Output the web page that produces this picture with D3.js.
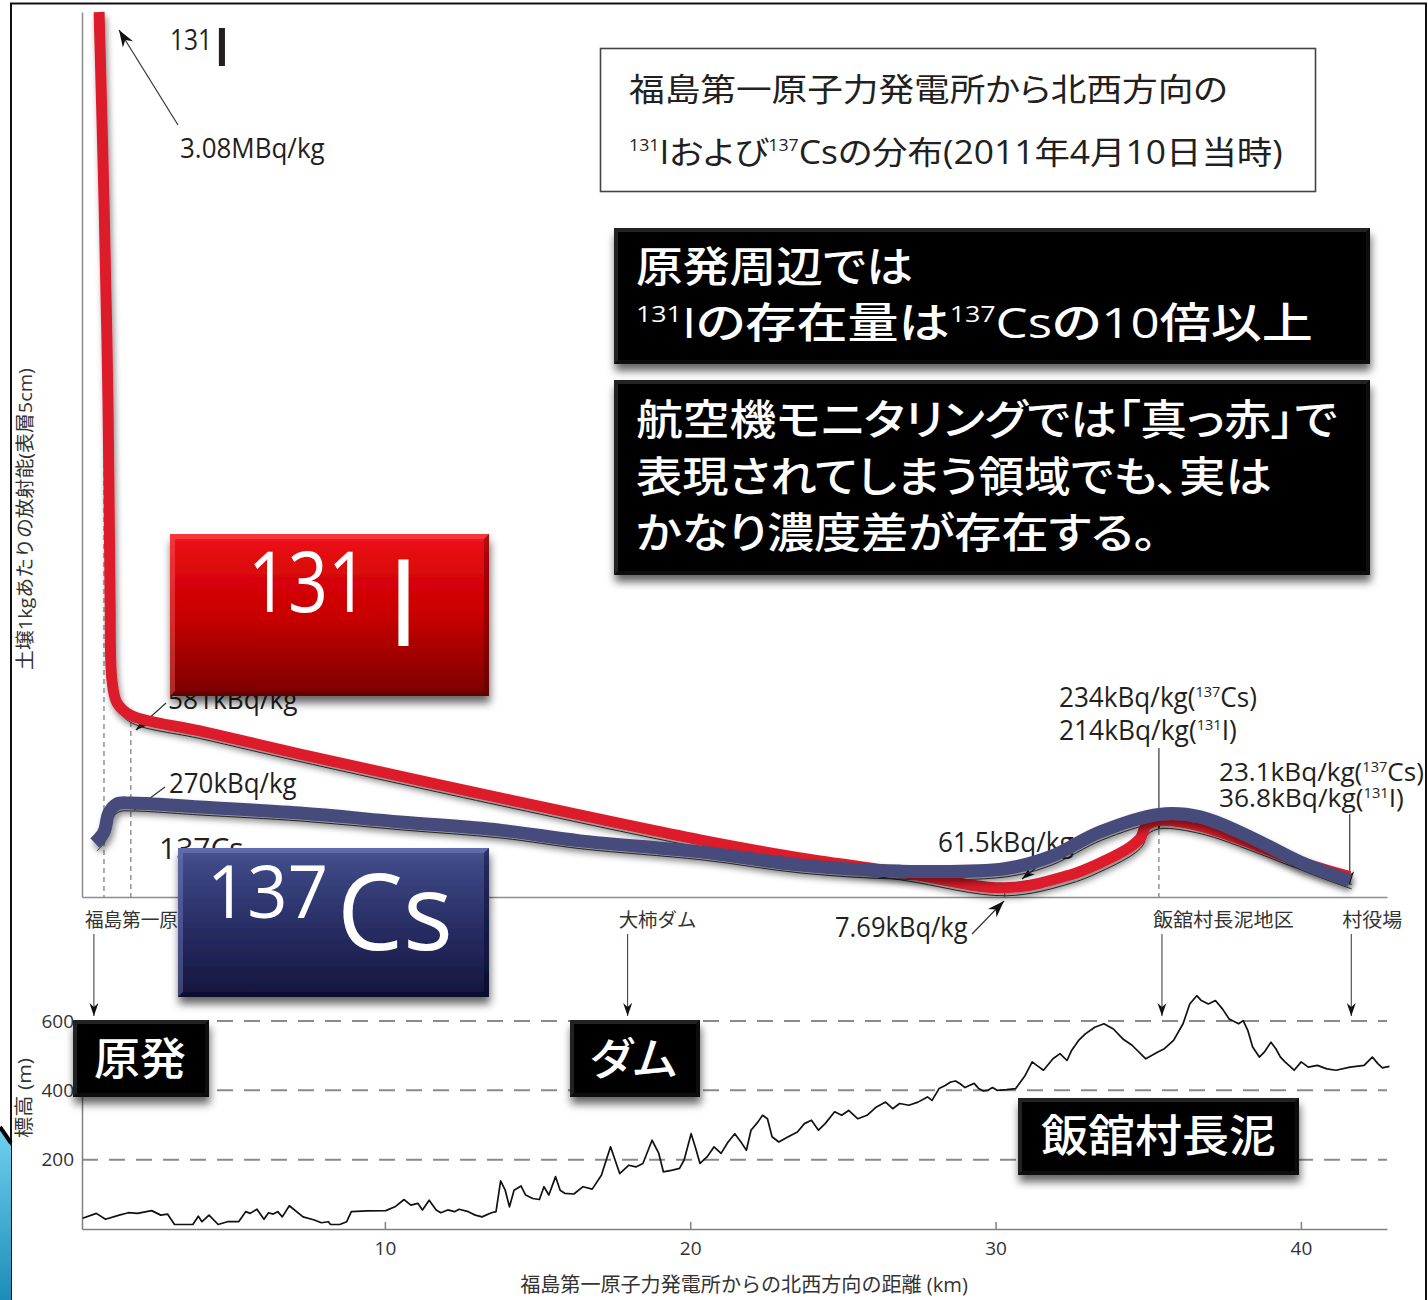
<!DOCTYPE html>
<html>
<head>
<meta charset="utf-8">
<script src="https://cdn.jsdelivr.net/npm/d3@7"></script>
<style>
  html, body { margin: 0; padding: 0; background: #fff; }
  svg { display: block; }
  text { font-family: "Open Sans", "Noto Sans CJK JP", sans-serif; }
</style>
</head>
<body>
<svg id="chart" width="1428" height="1300"></svg>
<script>
// ---------------- data ----------------
// 131I in surface soil (kBq/kg) along the NW transect, km from the plant
const iodineKm  = [0.64, 0.80, 0.93, 1.00, 1.06, 1.23, 1.68, 3.94, 7.22, 13.77, 20.32, 23.60, 26.87, 30.30, 32.44, 33.42, 34.40, 34.75, 34.93, 35.35, 36.70, 38.34, 39.97, 41.60];
const iodineVal = [3080, 2412, 1702, 991, 707, 625, 581, 526, 444, 288, 153, 96, 51, 7.69, 42, 80, 130, 160, 197, 214, 197, 143, 83, 36.8];

// 137Cs in surface soil (kBq/kg)
const cesiumKm  = [0.50, 0.80, 0.96, 1.22, 1.68, 3.94, 7.22, 10.50, 13.77, 16.39, 20.32, 23.60, 26.87, 30.30, 31.78, 33.42, 35.35, 36.70, 38.34, 39.97, 41.60];
const cesiumVal = [143, 178, 238, 267, 270, 257, 238, 210, 184, 150, 115, 73, 54, 61.5, 99, 178, 234, 226, 162, 83, 23.1];

// sampling sites marked on the profile (km)
const siteKm = [0.8, 1.68, 30.3, 35.35, 41.6];

// terrain elevation along the same line (m)
const elevKm = [0.10,0.55,0.85,1.30,1.60,1.90,2.36,2.66,2.88,3.11,3.71,3.89,4.01,4.24,4.54,4.84,5.21,5.44,5.59,5.81,6.04,6.19,6.34,6.49,6.64,6.87,7.32,7.69,7.92,8.15,8.22,8.52,8.75,8.90,9.42,10.03,10.33,10.63,10.85,11.08,11.23,11.45,11.68,11.83,12.06,12.28,12.43,12.73,12.96,13.18,13.49,13.64,13.79,13.94,14.08,14.23,14.46,14.61,14.84,15.06,15.21,15.37,15.59,15.74,15.89,16.19,16.49,16.79,17.09,17.39,17.69,17.99,18.22,18.45,18.75,18.97,19.12,19.42,19.65,19.80,20.03,20.18,20.32,20.55,20.78,21.01,21.24,21.46,21.69,21.84,21.99,22.22,22.37,22.53,22.68,22.90,23.21,23.51,23.74,23.97,24.20,24.42,24.73,24.96,25.19,25.49,25.79,26.10,26.40,26.63,26.86,27.16,27.46,27.77,27.92,28.15,28.35,28.53,28.69,28.84,29.00,29.14,29.30,29.45,29.60,29.75,29.90,30.05,30.36,30.66,30.97,31.20,31.35,31.57,31.88,32.11,32.34,32.49,32.72,32.94,33.25,33.55,33.86,34.16,34.47,34.92,35.30,35.53,35.83,36.14,36.36,36.59,36.74,36.97,37.20,37.43,37.65,37.96,38.11,38.26,38.42,38.64,38.80,39.02,39.18,39.33,39.48,39.78,40.01,40.24,40.54,40.85,41.15,41.61,42.07,42.34,42.52,42.67,42.90];
const elevM  = [31,45,28,40,47,45,53,40,43,13,13,37,21,40,13,21,21,50,45,57,28,47,43,50,35,67,35,26,18,21,13,13,21,50,52,53,64,85,69,74,55,83,55,47,55,50,57,50,40,35,47,50,139,112,64,112,124,98,88,85,122,98,151,112,103,101,122,115,155,237,160,184,179,189,256,218,165,170,175,199,275,232,189,208,237,218,251,275,247,227,285,309,328,318,266,251,266,280,304,314,285,304,338,328,342,318,328,352,366,347,362,357,366,381,371,405,414,424,427,419,408,414,420,405,398,400,408,400,402,405,443,482,472,458,491,506,486,515,544,563,582,592,577,549,530,491,510,520,544,592,649,673,659,649,659,635,606,592,601,573,525,496,510,539,520,496,482,458,482,467,472,462,458,467,472,496,477,465,469];

const elevTicks = [200, 400, 600];
const distTicks = [10, 20, 30, 40];

const places  = ["福島第一原子力発電所", "大柿ダム", "飯舘村長泥地区", "村役場"];
const placeKm = [0.47, 17.95, 35.45, 41.65];

// ---------------- scales ----------------
const svg = d3.select("#chart");
const defs = svg.append("defs");

const xs = d3.scaleLinear().domain([0.08, 42.82]).range([82, 1387]);
// schematic activity axis: piecewise linear so both the near-plant peak and the low values stay readable
const yConc = d3.scaleLinear().domain([0, 10, 270, 3080]).range([897, 885, 803, 12]);
const yElev = d3.scaleLinear().domain([0, 600]).range([1229, 1021]);

// ---------------- helpers ----------------
function dropShadow(id, dx, dy, sd, op) {
  const f = defs.append("filter").attr("id", id)
    .attr("filterUnits", "userSpaceOnUse").attr("x", 0).attr("y", 0).attr("width", 1428).attr("height", 1300);
  f.append("feDropShadow").attr("dx", dx).attr("dy", dy).attr("stdDeviation", sd)
    .attr("flood-color", "#000").attr("flood-opacity", op);
}
dropShadow("lineShadow", 2, 5, 3, 0.45);
dropShadow("boxShadow", 1, 7, 4.5, 0.6);

function arrowMarker(id, len, wid) {
  defs.append("marker").attr("id", id)
    .attr("viewBox", `0 0 ${len} ${wid}`).attr("refX", len).attr("refY", wid / 2)
    .attr("markerWidth", len).attr("markerHeight", wid)
    .attr("markerUnits", "userSpaceOnUse").attr("orient", "auto")
    .append("path").attr("d", `M0,0L${len},${wid / 2}L0,${wid}L${len * 0.3},${wid / 2}Z`).attr("fill", "#111");
}
arrowMarker("arrowBig", 17, 12);
arrowMarker("arrowSmall", 13, 9);

function gradient(id, stops) {
  const g = defs.append("linearGradient").attr("id", id).attr("x1", 0).attr("y1", 0).attr("x2", 0).attr("y2", 1);
  stops.forEach(s => g.append("stop").attr("offset", s[0]).attr("stop-color", s[1]));
}
gradient("redFill", [[0, "#f2161e"], [0.12, "#e30a10"], [0.5, "#c90000"], [1, "#7a0000"]]);
gradient("blueFill", [[0, "#4c5694"], [0.12, "#3d4784"], [0.55, "#272c62"], [1, "#14153d"]]);
gradient("cyanFill", [[0, "#6fd0ee"], [1, "#1c8db8"]]);

// text with optional super-scripts, stretched horizontally to a given width
function txt(parent, x, y, parts, o = {}) {
  const g = parent.append("g");
  const t = g.append("text")
    .attr("font-size", o.size || 27)
    .attr("fill", o.fill || "#231f20")
    .attr("text-anchor", o.anchor || "start");
  if (o.weight) t.attr("font-weight", o.weight);
  if (o.palt) t.style("font-feature-settings", '"palt"');
  [].concat(parts).forEach(p => {
    if (typeof p === "string") p = { t: p };
    const s = t.append("tspan").text(p.t);
    if (p.size) s.attr("font-size", p.size);
    if (p.dy) s.attr("dy", p.dy);
  });
  let sx = 1;
  if (o.width) sx = o.width / t.node().getBBox().width;
  const rot = o.rotate ? ` rotate(${o.rotate})` : "";
  g.attr("transform", `translate(${x},${y})${rot} scale(${sx},1)`);
  return g;
}
const sup = (s, size, rise) => [{ t: s, size: size, dy: -rise }];

function arrow(parent, x1, y1, x2, y2, marker, w) {
  parent.append("line").attr("x1", x1).attr("y1", y1).attr("x2", x2).attr("y2", y2)
    .attr("stroke", "#333").attr("stroke-width", w || 1.2)
    .attr("marker-end", marker ? `url(#${marker})` : null);
}

function bevelBox(parent, x, y, w, h, fill, light, dark, b) {
  const g = parent.append("g").attr("filter", "url(#boxShadow)");
  g.append("rect").attr("x", x).attr("y", y).attr("width", w).attr("height", h).attr("fill", fill);
  g.append("path").attr("fill", light)
    .attr("d", `M${x},${y}h${w}l${-b},${b}h${-(w - 2 * b)}v${h - 2 * b}l${-b},${b}Z`);
  g.append("path").attr("fill", dark)
    .attr("d", `M${x + w},${y + h}h${-w}l${b},${-b}h${w - 2 * b}v${-(h - 2 * b)}l${b},${-b}Z`);
  return g;
}

// ---------------- frame ----------------
svg.append("path").attr("d", "M11,1300V3.5H1426V1300")
  .attr("fill", "none").attr("stroke", "#111").attr("stroke-width", 2);

// ---------------- upper panel: activity ----------------
const up = svg.append("g");

up.append("g").attr("transform", "translate(82,0)")
  .call(d3.axisLeft(yConc).tickValues([]).tickSizeOuter(0))
  .call(g => g.select(".domain").attr("stroke", "#8c8c8c").attr("stroke-width", 1.5));
up.append("g").attr("transform", "translate(0,897)")
  .call(d3.axisBottom(xs).tickValues([]).tickSizeOuter(0))
  .call(g => g.select(".domain").attr("stroke", "#8c8c8c").attr("stroke-width", 1.5));

// y-axis title
txt(up, 32, 519, "土壌1kgあたりの放射能(表層5cm)", { size: 19, anchor: "middle", rotate: -90, width: 302, fill: "#333" });

// dashed guides at sampling sites
const dashTop = [40, 722, null, 830, null];
siteKm.forEach((k, i) => {
  if (dashTop[i] == null) return;
  up.append("line").attr("x1", xs(k)).attr("x2", xs(k)).attr("y1", dashTop[i]).attr("y2", 897)
    .attr("stroke", "#777").attr("stroke-width", 1.2).attr("stroke-dasharray", "5,4");
});
up.append("line").attr("x1", xs(siteKm[2])).attr("x2", xs(siteKm[2])).attr("y1", 889).attr("y2", 897)
  .attr("stroke", "#555").attr("stroke-width", 1);

// value labels
txt(up, 170, 50, "131", { size: 30, width: 42 });
txt(up, 222, 66, "I", { size: 52, weight: 600, anchor: "middle" });
txt(up, 180, 158, "3.08MBq/kg", { width: 145 });
arrow(up, 178, 125, 119, 30, "arrowBig");
txt(up, 168, 709, "581kBq/kg", { width: 130 });
arrow(up, 166, 703, 136, 730, "arrowSmall");
txt(up, 169, 793, "270kBq/kg", { width: 128 });
arrow(up, 165, 787, 134, 810, "arrowSmall");
txt(up, 159, 859, "137Cs", { size: 30 });
txt(up, 938, 852, "61.5kBq/kg", { width: 136 });
arrow(up, 1048, 858, 1022, 879, "arrowSmall");
txt(up, 835, 937, "7.69kBq/kg", { width: 133 });
arrow(up, 972, 934, 1004, 901, "arrowBig");
txt(up, 1059, 707, ["234kBq/kg(", ...sup("137", 15, 10), { t: "Cs)", dy: 10 }], { width: 198 });
txt(up, 1059, 740, ["214kBq/kg(", ...sup("131", 15, 10), { t: "I)", dy: 10 }], { width: 178 });
txt(up, 1219, 781, ["23.1kBq/kg(", ...sup("137", 14, 9), { t: "Cs)", dy: 9 }], { size: 25, width: 205 });
txt(up, 1219, 807, ["36.8kBq/kg(", ...sup("131", 14, 9), { t: "I)", dy: 9 }], { size: 25, width: 185 });
arrow(up, xs(siteKm[3]), 748, xs(siteKm[3]), 829, "arrowSmall");
arrow(up, xs(siteKm[4]), 814, xs(siteKm[4]), 884, "arrowSmall");

// profiles
const line = d3.line().curve(d3.curveCatmullRom.alpha(0.5));
const iodinePts = iodineKm.map((k, i) => [xs(k), yConc(iodineVal[i])]);
const cesiumPts = cesiumKm.map((k, i) => [xs(k), yConc(cesiumVal[i])]);

// fine outline of each profile, just beneath the thick band
[iodinePts, cesiumPts].forEach(p => {
  up.append("path").attr("d", line(p)).attr("transform", "translate(2,8)")
    .attr("fill", "none").attr("stroke", "#3a3a3a").attr("stroke-width", 1);
});
up.append("path").attr("d", line(iodinePts)).attr("filter", "url(#lineShadow)")
  .attr("fill", "none").attr("stroke", "#dc1f2b").attr("stroke-width", 11).attr("stroke-linejoin", "round");
up.append("path").attr("d", line(cesiumPts)).attr("filter", "url(#lineShadow)")
  .attr("fill", "none").attr("stroke", "#474b7b").attr("stroke-width", 13).attr("stroke-linejoin", "round");

// place names with arrows down to the terrain profile
const placeW = [186, 78, 141, 60];
places.forEach((p, i) => {
  const px = xs(placeKm[i]);
  txt(up, px - 9, 927, p, { size: 19, width: placeW[i], fill: "#333" });
  arrow(up, px, 934, px, 1016, "arrowSmall", 1);
});

// ---------------- lower panel: elevation ----------------
const lo = svg.append("g");
elevTicks.forEach(t => {
  lo.append("line").attr("x1", 82).attr("x2", 1387).attr("y1", yElev(t)).attr("y2", yElev(t))
    .attr("stroke", "#8a8a8a").attr("stroke-width", 2).attr("stroke-dasharray", "16,11");
});
lo.append("g").attr("transform", "translate(0,1229)")
  .call(d3.axisBottom(xs).tickValues(distTicks).tickSizeInner(-7).tickSizeOuter(0).tickPadding(13))
  .call(g => {
    g.select(".domain").attr("stroke", "#808080").attr("stroke-width", 1.5);
    g.selectAll(".tick line").attr("stroke", "#808080").attr("stroke-width", 1.5);
    g.selectAll(".tick text").attr("font-size", 19).attr("fill", "#333")
      .style("font-family", '"Open Sans", sans-serif');
  });
lo.append("g").attr("transform", "translate(82,0)")
  .call(d3.axisLeft(yElev).tickValues(elevTicks).tickSize(0).tickPadding(8).tickSizeOuter(0))
  .call(g => {
    g.select(".domain").attr("stroke", "#808080").attr("stroke-width", 1.5);
    g.selectAll(".tick text").attr("font-size", 19).attr("fill", "#333")
      .style("font-family", '"Open Sans", sans-serif');
  });
lo.append("path")
  .attr("d", d3.line()(elevKm.map((k, i) => [xs(k), yElev(elevM[i])])))
  .attr("fill", "none").attr("stroke", "#111").attr("stroke-width", 1.7).attr("stroke-linejoin", "round");

txt(lo, 31, 1098, "標高 (m)", { size: 19, anchor: "middle", rotate: -90, width: 80, fill: "#333" });
txt(lo, 744, 1292, "福島第一原子力発電所からの北西方向の距離 (km)", { size: 20, anchor: "middle", width: 448, fill: "#333" });

// ---------------- callout boxes ----------------
const bx = svg.append("g");

bevelBox(bx, 170, 534, 319, 162, "url(#redFill)", "rgba(255,120,120,0.35)", "rgba(60,0,0,0.35)", 5);
txt(bx, 248, 612, "131", { size: 84, width: 120, fill: "#fff" });
txt(bx, 403.5, 646, "I", { size: 120, anchor: "middle", fill: "#fff" });

bevelBox(bx, 178, 848, 311, 149, "url(#blueFill)", "rgba(140,150,220,0.35)", "rgba(0,0,30,0.4)", 5);
txt(bx, 207, 918, "137", { size: 74, width: 121, fill: "#fff" });
txt(bx, 337, 950, "Cs", { size: 107, width: 116, fill: "#fff" });

const dark = (x, y, w, h) => bevelBox(bx, x, y, w, h, "#000", "rgba(255,255,255,0.13)", "rgba(255,255,255,0.06)", 4);

dark(614, 228, 756, 136);
txt(bx, 636, 282, "原発周辺では", { size: 42, width: 277, fill: "#fff", weight: 500, palt: true });
txt(bx, 636, 338, [...sup("131", 22, 16), { t: "Iの存在量は", dy: 16 }, ...sup("137", 22, 16), { t: "Csの10倍以上", dy: 16 }],
  { size: 42, width: 677, fill: "#fff", weight: 500, palt: true });

dark(614, 380, 756, 195);
txt(bx, 636, 435, "航空機モニタリングでは「真っ赤」で", { size: 42, width: 702, fill: "#fff", weight: 500, palt: true });
txt(bx, 636, 492, "表現されてしまう領域でも、実は", { size: 42, width: 636, fill: "#fff", weight: 500, palt: true });
txt(bx, 636, 548, "かなり濃度差が存在する。", { size: 42, width: 521, fill: "#fff", weight: 500, palt: true });

dark(73, 1020, 136, 77);
txt(bx, 94, 1075, "原発", { size: 44, width: 92, fill: "#fff", weight: 500 });
dark(570, 1020, 130, 77);
txt(bx, 590, 1075, "ダム", { size: 44, width: 87, fill: "#fff", weight: 500, palt: true });
dark(1018, 1098, 281, 77);
txt(bx, 1041, 1152, "飯舘村長泥", { size: 44, width: 235, fill: "#fff", weight: 500 });

// ---------------- title ----------------
svg.append("rect").attr("x", 600.5).attr("y", 48.5).attr("width", 715).attr("height", 143)
  .attr("fill", "#fff").attr("stroke", "#444").attr("stroke-width", 1.6);
txt(svg, 629, 101, "福島第一原子力発電所から北西方向の", { size: 32, width: 599, palt: true });
txt(svg, 629, 164, [...sup("131", 16, 13), { t: "Iおよび", dy: 13 }, ...sup("137", 16, 13), { t: "Csの分布(2011年4月10日当時)", dy: 13 }],
  { size: 32, width: 654, palt: true });

// ---------------- slide corner ornament ----------------
svg.append("path").attr("d", "M0,1130L11,1146V1300H0Z").attr("fill", "url(#cyanFill)");
svg.append("path").attr("d", "M0,1127L11,1143").attr("stroke", "#000").attr("stroke-width", 4);
</script>
</body>
</html>
